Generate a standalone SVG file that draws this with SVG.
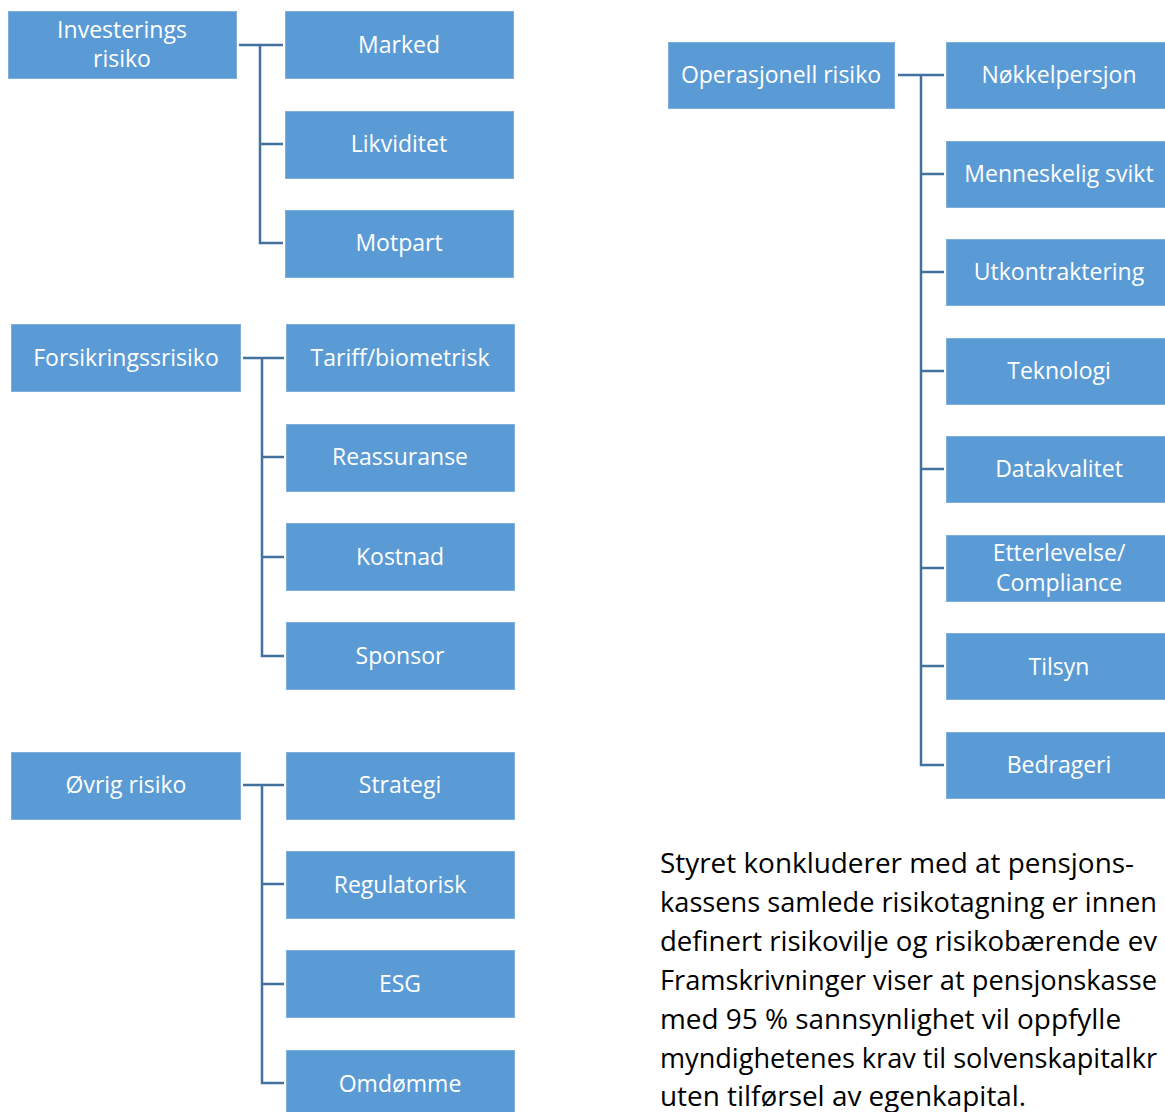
<svg xmlns="http://www.w3.org/2000/svg" width="1165" height="1112" viewBox="0 0 1165 1112">
<style>
.box{fill:#5B9BD5;stroke:#7FAFDD;stroke-width:1}
.lbl{font-family:"Open Sans","Noto Sans","Liberation Sans",sans-serif;font-size:23px;fill:#FFFFFF;text-anchor:middle}
.con{fill:none;stroke:#41719C;stroke-width:2.5}
.para{font-family:"Open Sans","Noto Sans","Liberation Sans",sans-serif;font-size:27.9px;fill:#000000}
</style>
<rect width="1165" height="1112" fill="#FFFFFF"/>
<g id="connectors">
<path class="con" d="M239 45H283M260 45V243H283M260 144H283"/>
<path class="con" d="M243 358H284M262 358V656H284M262 457H284M262 557H284"/>
<path class="con" d="M243 785H284M262 785V1083H284M262 884H284M262 984H284"/>
<path class="con" d="M898 75H944M921 75V765H944M921 174H944M921 272H944M921 371H944M921 469H944M921 568H944M921 666H944"/>
</g>
<g id="n-investerings"><rect class="box" x="8.5" y="11.5" width="228" height="67"/><text class="lbl" x="122" y="38">Investerings</text><text class="lbl" x="122" y="67">risiko</text></g>
<g id="n-marked"><rect class="box" x="285.5" y="11.5" width="228" height="67"/><text class="lbl" x="399" y="53">Marked</text></g>
<g id="n-likviditet"><rect class="box" x="285.5" y="111.5" width="228" height="67"/><text class="lbl" x="399" y="152">Likviditet</text></g>
<g id="n-motpart"><rect class="box" x="285.5" y="210.5" width="228" height="67"/><text class="lbl" x="399" y="251">Motpart</text></g>

<g id="n-forsikring"><rect class="box" x="11.5" y="324.5" width="229" height="67"/><text class="lbl" x="126" y="366">Forsikringssrisiko</text></g>
<g id="n-tariff"><rect class="box" x="286.5" y="324.5" width="228" height="67"/><text class="lbl" x="400" y="366">Tariff/biometrisk</text></g>
<g id="n-reassuranse"><rect class="box" x="286.5" y="424.5" width="228" height="67"/><text class="lbl" x="400" y="465">Reassuranse</text></g>
<g id="n-kostnad"><rect class="box" x="286.5" y="523.5" width="228" height="67"/><text class="lbl" x="400" y="565">Kostnad</text></g>
<g id="n-sponsor"><rect class="box" x="286.5" y="622.5" width="228" height="67"/><text class="lbl" x="400" y="664">Sponsor</text></g>

<g id="n-ovrig"><rect class="box" x="11.5" y="752.5" width="229" height="67"/><text class="lbl" x="126" y="793">Øvrig risiko</text></g>
<g id="n-strategi"><rect class="box" x="286.5" y="752.5" width="228" height="67"/><text class="lbl" x="400" y="793">Strategi</text></g>
<g id="n-regulatorisk"><rect class="box" x="286.5" y="851.5" width="228" height="67"/><text class="lbl" x="400" y="893">Regulatorisk</text></g>
<g id="n-esg"><rect class="box" x="286.5" y="950.5" width="228" height="67"/><text class="lbl" x="400" y="992">ESG</text></g>
<g id="n-omdomme"><rect class="box" x="286.5" y="1050.5" width="228" height="67"/><text class="lbl" x="400" y="1092">Omdømme</text></g>

<g id="n-operasjonell"><rect class="box" x="668.5" y="42.5" width="226" height="66"/><text class="lbl" x="781" y="83">Operasjonell risiko</text></g>
<g id="n-nokkel"><rect class="box" x="946.5" y="42.5" width="226" height="66"/><text class="lbl" x="1059" y="83">Nøkkelpersjon</text></g>
<g id="n-menneskelig"><rect class="box" x="946.5" y="141.5" width="226" height="66"/><text class="lbl" x="1059" y="182">Menneskelig svikt</text></g>
<g id="n-utkontraktering"><rect class="box" x="946.5" y="239.5" width="226" height="66"/><text class="lbl" x="1059" y="280">Utkontraktering</text></g>
<g id="n-teknologi"><rect class="box" x="946.5" y="338.5" width="226" height="66"/><text class="lbl" x="1059" y="379">Teknologi</text></g>
<g id="n-datakvalitet"><rect class="box" x="946.5" y="436.5" width="226" height="66"/><text class="lbl" x="1059" y="477">Datakvalitet</text></g>
<g id="n-etterlevelse"><rect class="box" x="946.5" y="535.5" width="226" height="66"/><text class="lbl" x="1059" y="561">Etterlevelse/</text><text class="lbl" x="1059" y="591">Compliance</text></g>
<g id="n-tilsyn"><rect class="box" x="946.5" y="633.5" width="226" height="66"/><text class="lbl" x="1059" y="675">Tilsyn</text></g>
<g id="n-bedrageri"><rect class="box" x="946.5" y="732.5" width="226" height="66"/><text class="lbl" x="1059" y="773">Bedrageri</text></g>

<g id="paragraph">
<text class="para" x="660" y="873">Styret konkluderer med at pensjons-</text>
<text class="para" x="660" y="912" textLength="497" lengthAdjust="spacingAndGlyphs">kassens samlede risikotagning er innen</text>
<text class="para" x="660" y="951" textLength="497" lengthAdjust="spacingAndGlyphs">definert risikovilje og risikobærende ev</text>
<text class="para" x="660" y="990" textLength="497" lengthAdjust="spacingAndGlyphs">Framskrivninger viser at pensjonskasse</text>
<text class="para" x="660" y="1029">med 95 % sannsynlighet vil oppfylle</text>
<text class="para" x="660" y="1068" textLength="497" lengthAdjust="spacingAndGlyphs">myndighetenes krav til solvenskapitalkr</text>
<text class="para" x="660" y="1106">uten tilførsel av egenkapital.</text>
</g>
</svg>
